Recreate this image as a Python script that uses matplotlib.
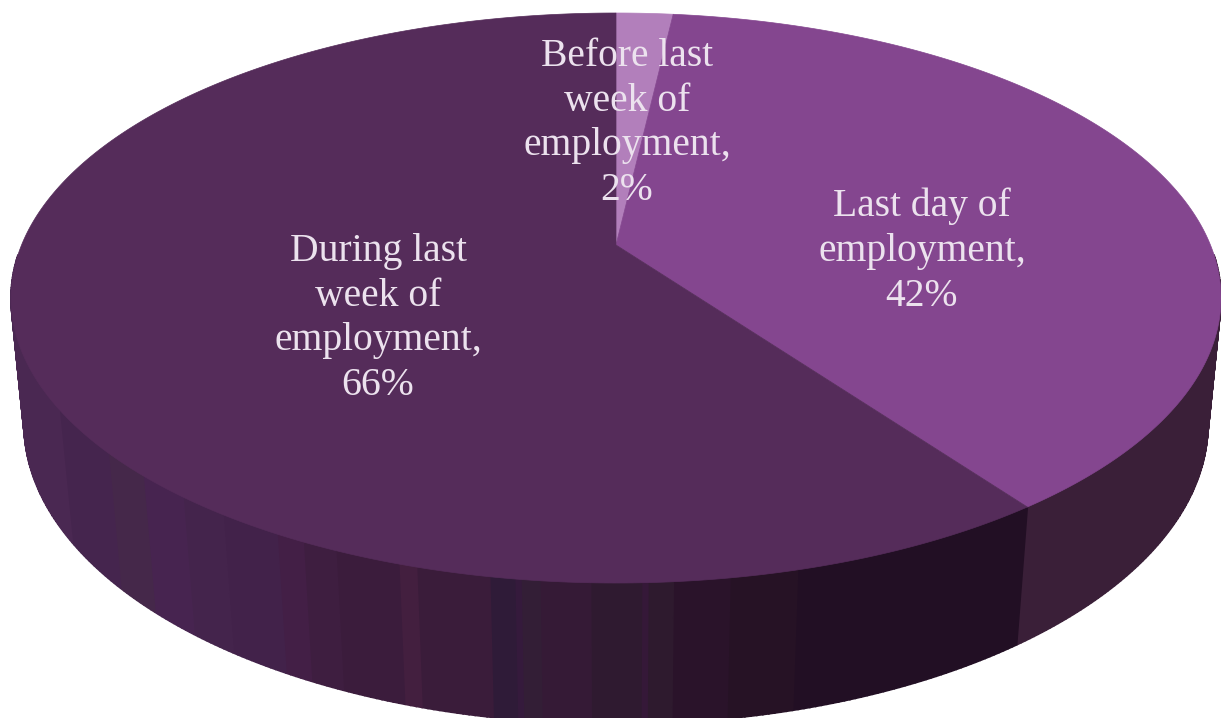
import numpy as np
import matplotlib
matplotlib.use("Agg")
from matplotlib import pyplot as plt

categories = ["Before last\nweek of\nemployment", "Last day of\nemployment", "During last\nweek of\nemployment"]
values = [2, 42, 66]

top_colors = ["#b27fbb", "#84468f", "#552c5a"]
last_day_side = "#3a1f38"

# vertical shading bands on the side of the big slice: right edge in px, colour
band_right = [60, 110, 145, 185, 225, 280, 305, 340, 400, 420, 490, 515, 525, 545, 595, 645, 650, 675, 735, 800, 1030]
band_color = ["#4a2852", "#45254e", "#45284a", "#472450", "#44244c", "#42224a", "#431f46", "#3e1e40", "#3b1c3c",
              "#431f3f", "#3a1c3a", "#2f1b38", "#351a3c", "#331e36", "#351a36", "#2f1a30", "#351838", "#2e1a2e",
              "#2a132a", "#261225", "#220f24"]

text_pos = [(627, 123.5), (922, 251), (378, 318.5)]


# disc seen in perspective: angle runs clockwise from the top of the pie
def disc(t, far, near, half_width, c):
    u = np.sin(t)
    v = np.cos(t)
    a = (far - near) / 2 + c * (far + near) / 2
    b = (far + near) / 2 + c * (far - near) / 2
    k = half_width * np.sqrt(1 - c**2)
    return 616 + k * u / (1 + c * v), (a * v + b) / (1 + c * v)


def top_disc(t):
    return disc(t, 13, 583, 605, 0.186)


def bottom_disc(t):
    return disc(t, 124, 724, 592, 0.18)


def side_color(t):
    if edges[1] <= t < edges[2]:
        return last_day_side
    x = top_disc(t)[0]
    return band_color[min(np.searchsorted(band_right, x), len(band_color) - 1)]


fig = plt.figure(figsize=(12.21, 7.18), dpi=100)
ax = fig.add_axes([0, 0, 1, 1])
ax.set_xlim(0, 1221)
ax.set_ylim(718, 0)
ax.axis("off")

edges = np.cumsum([0] + values) / sum(values) * 2 * np.pi

# side wall first, only the front part, in small facets with a thick edge to hide the joins
steps = np.radians(np.arange(92, 268, 0.5))
for t in steps:
    pair = np.array([t, t + np.radians(0.5)])
    x1, y1 = top_disc(pair)
    x2, y2 = bottom_disc(pair[::-1])
    ax.fill(np.r_[x1, x2], np.r_[y1, y2], color=side_color(t), lw=1.2)

# top faces of the slices
for i in range(len(values)):
    t = np.linspace(edges[i], edges[i + 1], 300)
    x, y = top_disc(t)
    ax.fill(np.r_[616, x], np.r_[245, y], color=top_colors[i], lw=0.5)

for i in range(len(values)):
    label = categories[i] + ",\n" + str(values[i]) + "%"
    ax.text(text_pos[i][0], text_pos[i][1], label, family="Liberation Serif", fontsize=28.5, color="#ece2ee",
            ha="center", va="center", multialignment="center", linespacing=1.28)

fig.savefig("out.png", dpi=100)
